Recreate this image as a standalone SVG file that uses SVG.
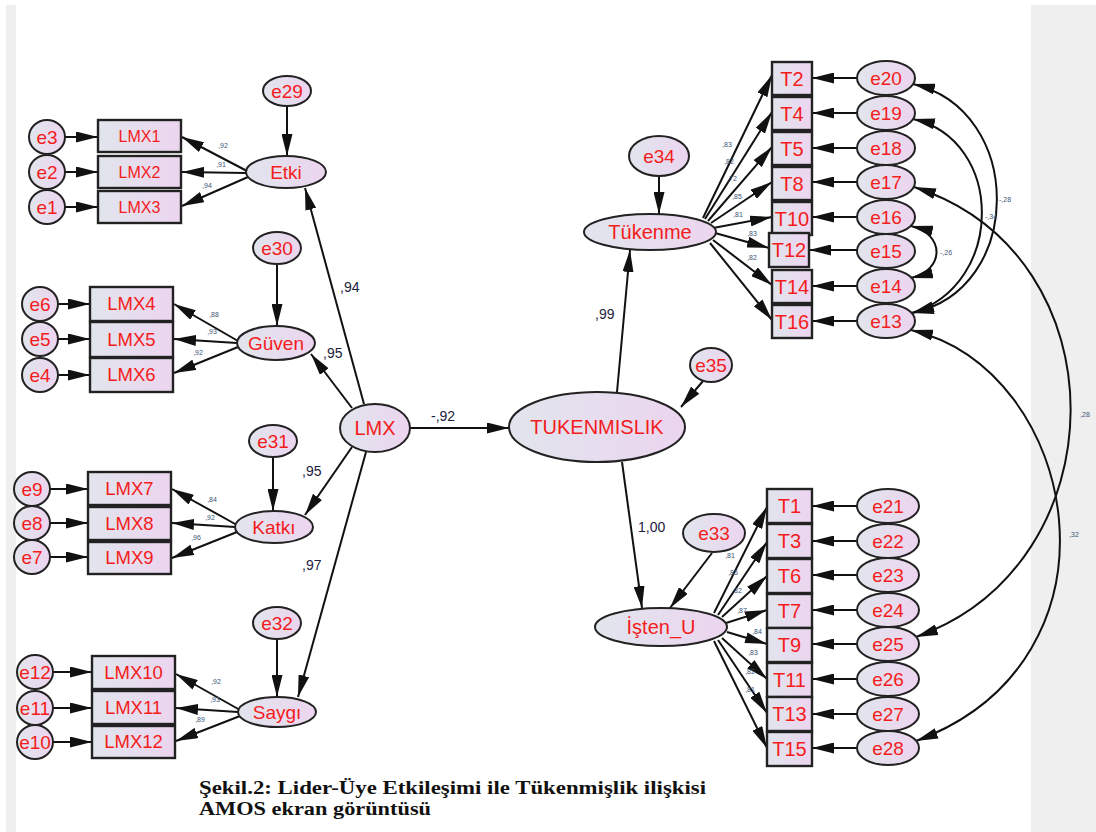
<svg xmlns="http://www.w3.org/2000/svg" width="1096" height="832" viewBox="0 0 1096 832">
  <defs>
    <linearGradient id="nodeFill" x1="0" y1="0" x2="1" y2="0">
      <stop offset="0" stop-color="#e1e5ed"/>
      <stop offset="1" stop-color="#ecd5ef"/>
    </linearGradient>
    <marker id="arr" viewBox="0 0 22 11" markerWidth="22" markerHeight="11" refX="22" refY="5.5" markerUnits="userSpaceOnUse" orient="auto-start-reverse">
      <path d="M0,0 L22,5.5 L0,11 z" fill="#111"/>
    </marker>
    <style>
      .n ellipse, .n rect { fill: url(#nodeFill); stroke: #222; stroke-width: 2; }
      .n rect { stroke-width: 2.4; }
      .t { font-family: "Liberation Sans", Arial, sans-serif; fill: #f41c1c; text-anchor: middle; }
      .e { font-size: 19px; }
      .ls { font-size: 16px; }
      .lm { font-size: 18.5px; }
      .lat { font-size: 19px; }
      .big { font-size: 20px; }
      .tt { font-size: 20px; }
      #connectors line, #connectors path { stroke: #111; stroke-width: 2; fill: none; marker-end: url(#arr); }
      #connectors path.cov { marker-start: url(#arr); }
      .w { font-family: "Liberation Sans", Arial, sans-serif; font-size: 14px; fill: #1c2240; }
      .s { font-family: "Liberation Sans", Arial, sans-serif; font-size: 7px; fill: #3d5478; text-anchor: middle; }
      .cap { font-family: "Liberation Serif", "Times New Roman", serif; font-weight: bold; font-size: 19px; fill: #111; }
    </style>
  </defs>

  <!-- page background -->
  <rect x="0" y="0" width="1096" height="832" fill="#ffffff"/>
  <rect x="6" y="5" width="10" height="827" fill="#efefef"/>
  <rect x="1031" y="5" width="65" height="827" fill="#efefef"/>

  <!-- paths, loadings, error terms and covariances -->
  <g id="connectors">
    <!-- Etki block -->
    <line x1="65" y1="137" x2="98" y2="137"/>
    <line x1="65" y1="172" x2="98" y2="172"/>
    <line x1="65" y1="207" x2="98" y2="207"/>
    <line x1="247" y1="171" x2="182" y2="137"/>
    <line x1="246" y1="173" x2="182" y2="172"/>
    <line x1="248" y1="177" x2="182" y2="206"/>
    <line x1="287" y1="106" x2="287" y2="156"/>
    <!-- Güven block -->
    <line x1="58" y1="304" x2="90" y2="304"/>
    <line x1="58" y1="339" x2="90" y2="339"/>
    <line x1="58" y1="375" x2="90" y2="375"/>
    <line x1="238" y1="341" x2="174" y2="304"/>
    <line x1="237" y1="343" x2="174" y2="339"/>
    <line x1="238" y1="347" x2="174" y2="373"/>
    <line x1="277" y1="264" x2="277" y2="326"/>
    <!-- Katkı block -->
    <line x1="50" y1="489" x2="88" y2="489"/>
    <line x1="50" y1="523" x2="88" y2="523"/>
    <line x1="50" y1="557" x2="88" y2="557"/>
    <line x1="237" y1="525" x2="172" y2="489"/>
    <line x1="235" y1="527" x2="172" y2="523"/>
    <line x1="237" y1="532" x2="172" y2="558"/>
    <line x1="273" y1="457" x2="273" y2="511"/>
    <!-- Saygı block -->
    <line x1="53" y1="672" x2="92" y2="672"/>
    <line x1="53" y1="708" x2="92" y2="708"/>
    <line x1="53" y1="742" x2="92" y2="742"/>
    <line x1="240" y1="710" x2="176" y2="674"/>
    <line x1="238" y1="712" x2="176" y2="708"/>
    <line x1="240" y1="716" x2="176" y2="741"/>
    <line x1="277" y1="639" x2="277" y2="697"/>
    <!-- second-order structure -->
    <line x1="364" y1="404" x2="305" y2="188"/>
    <line x1="352" y1="408" x2="311" y2="354"/>
    <line x1="352" y1="447" x2="305" y2="515"/>
    <line x1="366" y1="452" x2="298" y2="697"/>
    <line x1="410" y1="428" x2="509" y2="428"/>
    <line x1="617" y1="392" x2="630" y2="250"/>
    <line x1="622" y1="462" x2="642" y2="608"/>
    <line x1="703" y1="381" x2="681" y2="407"/>
    <line x1="659" y1="176" x2="659" y2="214"/>
    <line x1="712" y1="553" x2="670" y2="608"/>
    <!-- Tükenme loadings -->
    <line x1="703" y1="218" x2="772" y2="75"/>
    <line x1="705" y1="219" x2="772" y2="112"/>
    <line x1="708" y1="221" x2="772" y2="147"/>
    <line x1="711" y1="223" x2="772" y2="182"/>
    <line x1="713" y1="228" x2="772" y2="217"/>
    <line x1="715" y1="233" x2="769" y2="248"/>
    <line x1="713" y1="240" x2="772" y2="285"/>
    <line x1="710" y1="243" x2="772" y2="320"/>
    <!-- Tükenme error terms -->
    <line x1="857" y1="78" x2="812" y2="78"/>
    <line x1="857" y1="113" x2="812" y2="113"/>
    <line x1="857" y1="148" x2="812" y2="148"/>
    <line x1="857" y1="182" x2="812" y2="182"/>
    <line x1="857" y1="217" x2="812" y2="217"/>
    <line x1="857" y1="250" x2="809" y2="250"/>
    <line x1="857" y1="286" x2="812" y2="286"/>
    <line x1="857" y1="321" x2="812" y2="321"/>
    <!-- İşten_U loadings -->
    <line x1="714" y1="613" x2="767" y2="507"/>
    <line x1="718" y1="615" x2="767" y2="542"/>
    <line x1="722" y1="617" x2="767" y2="576"/>
    <line x1="726" y1="623" x2="767" y2="610"/>
    <line x1="727" y1="632" x2="767" y2="644"/>
    <line x1="722" y1="638" x2="767" y2="679"/>
    <line x1="718" y1="640" x2="767" y2="713"/>
    <line x1="714" y1="641" x2="767" y2="748"/>
    <!-- İşten_U error terms -->
    <line x1="857" y1="506" x2="812" y2="506"/>
    <line x1="857" y1="541" x2="812" y2="541"/>
    <line x1="857" y1="575" x2="812" y2="575"/>
    <line x1="857" y1="610" x2="812" y2="610"/>
    <line x1="857" y1="644" x2="812" y2="644"/>
    <line x1="857" y1="679" x2="812" y2="679"/>
    <line x1="857" y1="714" x2="812" y2="714"/>
    <line x1="857" y1="748" x2="812" y2="748"/>
    <!-- error covariances -->
    <path class="cov" d="M913,84 C1025,110 1025,290 912,313"/>
    <path class="cov" d="M913,119 C1005,140 1005,285 912,313"/>
    <path class="cov" d="M911,226 C945,234 945,270 911,278"/>
    <path class="cov" d="M914,187 C1125,255 1120,565 916,637"/>
    <path class="cov" d="M911,330 C1080,370 1135,660 916,741"/>
  </g>

  <!-- coefficient labels -->
  <g id="coefficients">
    <text class="w" x="340" y="292">,94</text>
    <text class="w" x="323" y="358">,95</text>
    <text class="w" x="302" y="476">,95</text>
    <text class="w" x="302" y="570">,97</text>
    <text class="w" x="431" y="421">-,92</text>
    <text class="w" x="595" y="319">,99</text>
    <text class="w" x="638" y="532">1,00</text>
    <text class="s" x="223" y="148">,92</text>
    <text class="s" x="221" y="167">,91</text>
    <text class="s" x="207" y="188">,94</text>
    <text class="s" x="214" y="317">,88</text>
    <text class="s" x="212" y="334">,93</text>
    <text class="s" x="198" y="355">,92</text>
    <text class="s" x="212" y="502">,84</text>
    <text class="s" x="210" y="520">,92</text>
    <text class="s" x="196" y="540">,96</text>
    <text class="s" x="216" y="684">,92</text>
    <text class="s" x="215" y="702">,93</text>
    <text class="s" x="200" y="722">,89</text>
    <text class="s" x="727" y="147">,83</text>
    <text class="s" x="729" y="164">,82</text>
    <text class="s" x="732" y="181">,72</text>
    <text class="s" x="737" y="199">,85</text>
    <text class="s" x="738" y="217">,81</text>
    <text class="s" x="752" y="236">,83</text>
    <text class="s" x="752" y="260">,82</text>
    <text class="s" x="730" y="558">,81</text>
    <text class="s" x="733" y="575">,85</text>
    <text class="s" x="737" y="593">,82</text>
    <text class="s" x="742" y="613">,87</text>
    <text class="s" x="757" y="634">,84</text>
    <text class="s" x="753" y="655">,83</text>
    <text class="s" x="750" y="674">,82</text>
    <text class="s" x="750" y="692">,81</text>
    <text class="s" x="1005" y="202">-,28</text>
    <text class="s" x="991" y="219">-,34</text>
    <text class="s" x="946" y="255">-,26</text>
    <text class="s" x="1085" y="417">,28</text>
    <text class="s" x="1074" y="537">,32</text>
  </g>

  <!-- Etki block -->
  <g id="e3" class="n"><ellipse cx="47" cy="137" rx="18" ry="17"/><text class="t e" x="47" y="137" dy="0.35em">e3</text></g>
  <g id="e2" class="n"><ellipse cx="47" cy="172" rx="18" ry="17"/><text class="t e" x="47" y="172" dy="0.35em">e2</text></g>
  <g id="e1" class="n"><ellipse cx="47" cy="207" rx="18" ry="17"/><text class="t e" x="47" y="207" dy="0.35em">e1</text></g>
  <g id="LMX1" class="n"><rect x="98" y="120" width="83" height="32"/><text class="t ls" x="139.5" y="136" dy="0.35em">LMX1</text></g>
  <g id="LMX2" class="n"><rect x="98" y="156" width="83" height="32"/><text class="t ls" x="139.5" y="172" dy="0.35em">LMX2</text></g>
  <g id="LMX3" class="n"><rect x="98" y="191" width="83" height="32"/><text class="t ls" x="139.5" y="207" dy="0.35em">LMX3</text></g>
  <g id="Etki" class="n"><ellipse cx="286" cy="172" rx="40" ry="16"/><text class="t lat" x="286" y="172" dy="0.35em">Etki</text></g>
  <g id="e29" class="n"><ellipse cx="287" cy="91" rx="24" ry="15"/><text class="t e" x="287" y="91" dy="0.35em">e29</text></g>

  <!-- Güven block -->
  <g id="e6" class="n"><ellipse cx="40" cy="304" rx="18" ry="17"/><text class="t e" x="40" y="304" dy="0.35em">e6</text></g>
  <g id="e5" class="n"><ellipse cx="40" cy="339" rx="18" ry="17"/><text class="t e" x="40" y="339" dy="0.35em">e5</text></g>
  <g id="e4" class="n"><ellipse cx="40" cy="375" rx="18" ry="17"/><text class="t e" x="40" y="375" dy="0.35em">e4</text></g>
  <g id="LMX4" class="n"><rect x="90" y="287" width="83" height="34"/><text class="t lm" x="131.5" y="304" dy="0.35em">LMX4</text></g>
  <g id="LMX5" class="n"><rect x="90" y="322" width="83" height="35"/><text class="t lm" x="131.5" y="339.5" dy="0.35em">LMX5</text></g>
  <g id="LMX6" class="n"><rect x="90" y="358" width="83" height="34"/><text class="t lm" x="131.5" y="375" dy="0.35em">LMX6</text></g>
  <g id="Guven" class="n"><ellipse cx="276" cy="343" rx="39" ry="17"/><text class="t lat" x="276" y="343" dy="0.35em">Güven</text></g>
  <g id="e30" class="n"><ellipse cx="277" cy="248" rx="24" ry="16"/><text class="t e" x="277" y="248" dy="0.35em">e30</text></g>

  <!-- Katkı block -->
  <g id="e9" class="n"><ellipse cx="32" cy="489" rx="18" ry="17"/><text class="t e" x="32" y="489" dy="0.35em">e9</text></g>
  <g id="e8" class="n"><ellipse cx="32" cy="523" rx="18" ry="17"/><text class="t e" x="32" y="523" dy="0.35em">e8</text></g>
  <g id="e7" class="n"><ellipse cx="32" cy="557" rx="18" ry="17"/><text class="t e" x="32" y="557" dy="0.35em">e7</text></g>
  <g id="LMX7" class="n"><rect x="88" y="472" width="83" height="33"/><text class="t lm" x="129.5" y="488.5" dy="0.35em">LMX7</text></g>
  <g id="LMX8" class="n"><rect x="88" y="507" width="83" height="33"/><text class="t lm" x="129.5" y="523.5" dy="0.35em">LMX8</text></g>
  <g id="LMX9" class="n"><rect x="88" y="542" width="83" height="32"/><text class="t lm" x="129.5" y="558" dy="0.35em">LMX9</text></g>
  <g id="Katki" class="n"><ellipse cx="274" cy="527" rx="39" ry="16"/><text class="t lat" x="274" y="527" dy="0.35em">Katkı</text></g>
  <g id="e31" class="n"><ellipse cx="273" cy="441" rx="24" ry="16"/><text class="t e" x="273" y="441" dy="0.35em">e31</text></g>

  <!-- Saygı block -->
  <g id="e12" class="n"><ellipse cx="35" cy="672" rx="18" ry="17"/><text class="t e" x="35" y="672" dy="0.35em">e12</text></g>
  <g id="e11" class="n"><ellipse cx="35" cy="708" rx="18" ry="17"/><text class="t e" x="35" y="708" dy="0.35em">e11</text></g>
  <g id="e10" class="n"><ellipse cx="35" cy="742" rx="18" ry="17"/><text class="t e" x="35" y="742" dy="0.35em">e10</text></g>
  <g id="LMX10" class="n"><rect x="92" y="656" width="83" height="33"/><text class="t lm" x="133.5" y="672.5" dy="0.35em">LMX10</text></g>
  <g id="LMX11" class="n"><rect x="92" y="691" width="83" height="33"/><text class="t lm" x="133.5" y="707.5" dy="0.35em">LMX11</text></g>
  <g id="LMX12" class="n"><rect x="92" y="726" width="83" height="32"/><text class="t lm" x="133.5" y="742" dy="0.35em">LMX12</text></g>
  <g id="Saygi" class="n"><ellipse cx="277" cy="712" rx="39" ry="15"/><text class="t lat" x="277" y="712" dy="0.35em">Saygı</text></g>
  <g id="e32" class="n"><ellipse cx="277" cy="623" rx="24" ry="16"/><text class="t e" x="277" y="623" dy="0.35em">e32</text></g>

  <!-- second-order factors -->
  <g id="LMX" class="n"><ellipse cx="375" cy="428" rx="35" ry="24"/><text class="t big" x="375" y="428" dy="0.35em">LMX</text></g>
  <g id="TUKENMISLIK" class="n"><ellipse cx="597" cy="427" rx="88" ry="35"/><text class="t big" x="597" y="427" dy="0.35em">TUKENMISLIK</text></g>
  <g id="e35" class="n"><ellipse cx="711" cy="365" rx="21" ry="17"/><text class="t e" x="711" y="365" dy="0.35em">e35</text></g>

  <!-- Tükenme block -->
  <g id="Tukenme" class="n"><ellipse cx="650" cy="232" rx="66" ry="18"/><text class="t big" x="650" y="232" dy="0.35em">Tükenme</text></g>
  <g id="e34" class="n"><ellipse cx="659" cy="156" rx="30" ry="20"/><text class="t e" x="659" y="156" dy="0.35em">e34</text></g>
  <g id="T2" class="n"><rect x="772" y="62" width="40" height="33"/><text class="t tt" x="792" y="78.5" dy="0.35em">T2</text></g>
  <g id="T4" class="n"><rect x="772" y="97" width="40" height="33"/><text class="t tt" x="792" y="113.5" dy="0.35em">T4</text></g>
  <g id="T5" class="n"><rect x="772" y="132" width="40" height="33"/><text class="t tt" x="792" y="148.5" dy="0.35em">T5</text></g>
  <g id="T8" class="n"><rect x="772" y="167" width="40" height="33"/><text class="t tt" x="792" y="183.5" dy="0.35em">T8</text></g>
  <g id="T10" class="n"><rect x="772" y="202" width="40" height="33"/><text class="t tt" x="792" y="218.5" dy="0.35em">T10</text></g>
  <g id="T12" class="n"><rect x="769" y="233" width="40" height="34"/><text class="t tt" x="789" y="250" dy="0.35em">T12</text></g>
  <g id="T14" class="n"><rect x="772" y="270" width="40" height="33"/><text class="t tt" x="792" y="286.5" dy="0.35em">T14</text></g>
  <g id="T16" class="n"><rect x="772" y="305" width="40" height="33"/><text class="t tt" x="792" y="321.5" dy="0.35em">T16</text></g>
  <g id="e20" class="n"><ellipse cx="886" cy="78" rx="29" ry="17"/><text class="t e" x="886" y="78" dy="0.35em">e20</text></g>
  <g id="e19" class="n"><ellipse cx="886" cy="113" rx="29" ry="17"/><text class="t e" x="886" y="113" dy="0.35em">e19</text></g>
  <g id="e18" class="n"><ellipse cx="886" cy="148" rx="29" ry="17"/><text class="t e" x="886" y="148" dy="0.35em">e18</text></g>
  <g id="e17" class="n"><ellipse cx="886" cy="182" rx="29" ry="17"/><text class="t e" x="886" y="182" dy="0.35em">e17</text></g>
  <g id="e16" class="n"><ellipse cx="886" cy="217" rx="29" ry="17"/><text class="t e" x="886" y="217" dy="0.35em">e16</text></g>
  <g id="e15" class="n"><ellipse cx="886" cy="251" rx="29" ry="17"/><text class="t e" x="886" y="251" dy="0.35em">e15</text></g>
  <g id="e14" class="n"><ellipse cx="886" cy="286" rx="29" ry="17"/><text class="t e" x="886" y="286" dy="0.35em">e14</text></g>
  <g id="e13" class="n"><ellipse cx="886" cy="321" rx="29" ry="17"/><text class="t e" x="886" y="321" dy="0.35em">e13</text></g>

  <!-- İşten_U block -->
  <g id="Isten_U" class="n"><ellipse cx="661" cy="627" rx="66" ry="19"/><text class="t big" x="661" y="627" dy="0.35em">İşten_U</text></g>
  <g id="e33" class="n"><ellipse cx="714" cy="533" rx="31" ry="19"/><text class="t e" x="714" y="533" dy="0.35em">e33</text></g>
  <g id="T1" class="n"><rect x="767" y="489" width="45" height="34"/><text class="t tt" x="789.5" y="506" dy="0.35em">T1</text></g>
  <g id="T3" class="n"><rect x="767" y="524" width="45" height="34"/><text class="t tt" x="789.5" y="541" dy="0.35em">T3</text></g>
  <g id="T6" class="n"><rect x="767" y="559" width="45" height="34"/><text class="t tt" x="789.5" y="576" dy="0.35em">T6</text></g>
  <g id="T7" class="n"><rect x="767" y="594" width="45" height="34"/><text class="t tt" x="789.5" y="611" dy="0.35em">T7</text></g>
  <g id="T9" class="n"><rect x="767" y="628" width="45" height="34"/><text class="t tt" x="789.5" y="645" dy="0.35em">T9</text></g>
  <g id="T11" class="n"><rect x="767" y="663" width="45" height="34"/><text class="t tt" x="789.5" y="680" dy="0.35em">T11</text></g>
  <g id="T13" class="n"><rect x="767" y="697" width="45" height="34"/><text class="t tt" x="789.5" y="714" dy="0.35em">T13</text></g>
  <g id="T15" class="n"><rect x="767" y="732" width="45" height="34"/><text class="t tt" x="789.5" y="749" dy="0.35em">T15</text></g>
  <g id="e21" class="n"><ellipse cx="888" cy="506" rx="31" ry="17"/><text class="t e" x="888" y="506" dy="0.35em">e21</text></g>
  <g id="e22" class="n"><ellipse cx="888" cy="541" rx="31" ry="17"/><text class="t e" x="888" y="541" dy="0.35em">e22</text></g>
  <g id="e23" class="n"><ellipse cx="888" cy="575" rx="31" ry="17"/><text class="t e" x="888" y="575" dy="0.35em">e23</text></g>
  <g id="e24" class="n"><ellipse cx="888" cy="610" rx="31" ry="17"/><text class="t e" x="888" y="610" dy="0.35em">e24</text></g>
  <g id="e25" class="n"><ellipse cx="888" cy="644" rx="31" ry="17"/><text class="t e" x="888" y="644" dy="0.35em">e25</text></g>
  <g id="e26" class="n"><ellipse cx="888" cy="679" rx="31" ry="17"/><text class="t e" x="888" y="679" dy="0.35em">e26</text></g>
  <g id="e27" class="n"><ellipse cx="888" cy="714" rx="31" ry="17"/><text class="t e" x="888" y="714" dy="0.35em">e27</text></g>
  <g id="e28" class="n"><ellipse cx="888" cy="748" rx="31" ry="17"/><text class="t e" x="888" y="748" dy="0.35em">e28</text></g>

  <!-- caption -->
  <g id="caption">
    <text class="cap" x="199" y="794" textLength="507" lengthAdjust="spacingAndGlyphs">Şekil.2: Lider-Üye Etkileşimi ile Tükenmişlik ilişkisi</text>
    <text class="cap" x="199" y="815" textLength="232" lengthAdjust="spacingAndGlyphs">AMOS ekran görüntüsü</text>
  </g>
</svg>
